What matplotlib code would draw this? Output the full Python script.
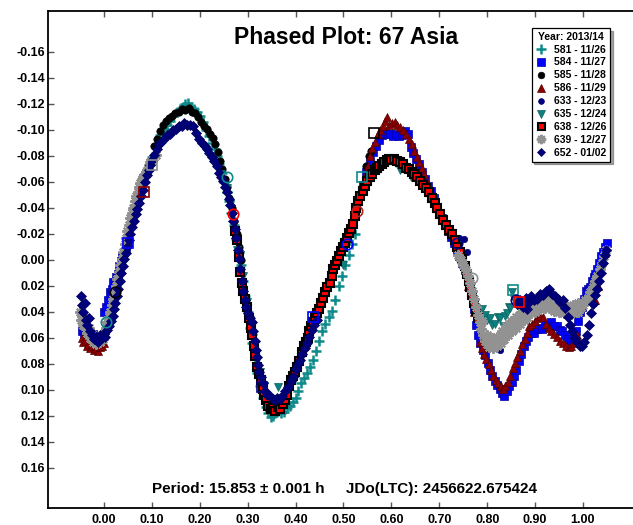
import numpy as np
import matplotlib
matplotlib.use("Agg")
import matplotlib.pyplot as plt

plt.rcParams['font.family'] = ['Liberation Sans', 'DejaVu Sans']
plt.rcParams['font.weight'] = 'bold'

TITLE = "Phased Plot: 67 Asia"
FOOTER = "Period: 15.853 \u00b1 0.001 h     JDo(LTC): 2456622.675424"
LEGEND_TITLE = "Year: 2013/14"
LABELS = ["581 - 11/26", "584 - 11/27", "585 - 11/28", "586 - 11/29", "633 - 12/23",
          "635 - 12/24", "638 - 12/26", "639 - 12/27", "652 - 01/02"]
XTICKS = [0.0, 0.1, 0.2, 0.3, 0.4, 0.5, 0.6, 0.7, 0.8, 0.9, 1.0]
YTICKS = [-0.16, -0.14, -0.12, -0.10, -0.08, -0.06, -0.04, -0.02, 0.0,
          0.02, 0.04, 0.06, 0.08, 0.10, 0.12, 0.14, 0.16]

# (phase, magnitude) per session
s581 = [(0.100,-0.079),(0.108,-0.088),(0.117,-0.096),(0.125,-0.101),(0.132,-0.104),(0.138,-0.107),
        (0.145,-0.111),(0.152,-0.114),(0.158,-0.116),(0.165,-0.118),(0.170,-0.120),(0.176,-0.121),
        (0.182,-0.118),(0.188,-0.116),(0.195,-0.114),(0.201,-0.111),(0.207,-0.106),(0.213,-0.100),
        (0.219,-0.095),(0.225,-0.090),(0.231,-0.085),(0.236,-0.080),(0.241,-0.074),(0.246,-0.067),
        (0.251,-0.060),(0.256,-0.052),(0.261,-0.045),(0.266,-0.036),(0.271,-0.027),(0.276,-0.016),
        (0.281,-0.006),(0.285,0.004),(0.290,0.016),(0.295,0.028),(0.300,0.040),(0.305,0.052),
        (0.310,0.064),(0.315,0.076),(0.320,0.087),(0.326,0.097),(0.332,0.106),(0.338,0.113),
        (0.343,0.118),(0.348,0.121),(0.353,0.120),(0.358,0.117),(0.364,0.116),(0.370,0.118),
        (0.376,0.117),(0.382,0.114),(0.388,0.112),(0.394,0.109),(0.400,0.106),(0.406,0.101),
        (0.412,0.095),(0.418,0.091),(0.424,0.087),(0.430,0.082),(0.436,0.077),(0.442,0.070),
        (0.448,0.062),(0.455,0.055),(0.462,0.049),(0.469,0.044),(0.476,0.039),(0.483,0.031),
        (0.490,0.020),(0.497,0.012),(0.504,0.004),(0.511,-0.004),(0.518,-0.012),(0.525,-0.020)]

s584 = [(-0.046,0.055),(-0.042,0.057),(-0.038,0.053),(-0.033,0.058),(-0.027,0.060),(-0.022,0.057),
        (0.000,0.040),(0.004,0.036),(0.008,0.031),(0.012,0.025),(0.016,0.022),(0.019,0.017),
        (0.023,0.020),(0.026,0.013),(0.029,0.011),(0.032,0.005),(0.035,0.001),(0.038,-0.003),
        (0.042,-0.006),(0.046,-0.010),(0.050,-0.014),
        (0.540,-0.058),(0.548,-0.068),(0.556,-0.076),(0.562,-0.083),(0.568,-0.088),(0.574,-0.092),
        (0.580,-0.096),(0.586,-0.098),(0.592,-0.097),(0.598,-0.097),(0.604,-0.095),(0.610,-0.097),
        (0.616,-0.095),(0.622,-0.096),(0.628,-0.099),(0.634,-0.097),(0.640,-0.087),(0.646,-0.082),
        (0.652,-0.078),(0.658,-0.074),(0.664,-0.068),(0.670,-0.062),(0.676,-0.057),(0.682,-0.053),
        (0.688,-0.048),(0.694,-0.041),(0.700,-0.036),(0.706,-0.032),(0.712,-0.028),(0.718,-0.022),
        (0.724,-0.018),(0.730,-0.013),(0.736,-0.008),(0.742,-0.003),(0.748,0.002),(0.754,0.008),
        (0.760,0.015),(0.766,0.024),(0.772,0.038),(0.777,0.050),(0.781,0.058),
        (0.786,0.064),(0.791,0.069),(0.796,0.073),(0.801,0.079),(0.806,0.085),(0.811,0.089),
        (0.816,0.093),(0.821,0.096),(0.826,0.099),(0.831,0.102),(0.836,0.105),(0.841,0.101),
        (0.846,0.097),(0.851,0.094),(0.856,0.089),(0.861,0.085),(0.866,0.078),(0.871,0.072),
        (0.876,0.066),(0.881,0.062),(0.886,0.059),(0.891,0.056),(0.897,0.056),(0.903,0.053),
        (0.909,0.052),(0.915,0.053),(0.921,0.050),(0.927,0.050),(0.933,0.048),(0.939,0.051),
        (0.945,0.051),(0.951,0.054),(0.957,0.055),(0.963,0.058),(0.969,0.061),(0.975,0.062),
        (0.981,0.060),(0.986,0.055),(0.990,0.047),(0.994,0.040),(0.998,0.036),(1.002,0.030),
        (1.006,0.024),(1.010,0.022),(1.014,0.021),(1.018,0.016),(1.022,0.013),(1.026,0.011),
        (1.030,0.007),(1.034,0.002),(1.038,-0.003),(1.042,-0.006),(1.046,-0.010),(1.050,-0.013)]

s585 = [(0.105,-0.088),(0.111,-0.093),(0.117,-0.099),(0.123,-0.104),(0.130,-0.107),(0.136,-0.109),
        (0.142,-0.111),(0.149,-0.113),(0.156,-0.114),(0.163,-0.116),(0.170,-0.115),(0.177,-0.117),
        (0.184,-0.114),(0.190,-0.113),(0.197,-0.110),(0.203,-0.106),(0.209,-0.103),(0.215,-0.101),
        (0.221,-0.097),(0.227,-0.094),(0.232,-0.089),(0.237,-0.083),(0.242,-0.076),(0.247,-0.070),
        (0.252,-0.062),(0.257,-0.056),(0.262,-0.048),(0.267,-0.040),(0.272,-0.030),(0.277,-0.020),
        (0.282,-0.010),(0.287,0.000),(0.548,-0.072),(0.553,-0.080),(0.558,-0.084)]

s586 = [(-0.046,0.060),(-0.043,0.063),(-0.040,0.062),(-0.036,0.066),(-0.033,0.065),(-0.029,0.068),
        (-0.025,0.066),(-0.021,0.069),(-0.017,0.068),(-0.013,0.070),(-0.009,0.067),(-0.005,0.066),
        (-0.001,0.064),
        (0.540,-0.060),(0.546,-0.066),(0.551,-0.072),(0.555,-0.080),(0.560,-0.086),(0.566,-0.091),
        (0.572,-0.097),(0.577,-0.100),(0.582,-0.103),(0.587,-0.107),(0.591,-0.110),(0.596,-0.104),
        (0.601,-0.105),(0.607,-0.106),(0.612,-0.104),(0.618,-0.102),(0.624,-0.100),(0.630,-0.097),
        (0.636,-0.093),(0.642,-0.089),(0.648,-0.084),(0.653,-0.079),(0.658,-0.075),(0.664,-0.071),
        (0.669,-0.066),(0.674,-0.060),(0.679,-0.055),(0.684,-0.050),
        (0.700,-0.038),(0.720,-0.022),(0.740,-0.006),(0.760,0.020),(0.772,0.040),
        (0.784,0.063),(0.789,0.068),(0.794,0.072),(0.798,0.076),(0.803,0.080),(0.808,0.085),
        (0.813,0.089),(0.818,0.092),(0.823,0.095),(0.828,0.097),(0.833,0.099),(0.838,0.097),
        (0.843,0.094),(0.848,0.089),(0.853,0.083),(0.858,0.079),(0.863,0.075),(0.868,0.070),
        (0.873,0.065),(0.878,0.061),(0.883,0.056),(0.888,0.051),(0.893,0.049),(0.899,0.047),
        (0.905,0.045),(0.911,0.043),(0.917,0.044),(0.922,0.049),(0.928,0.052),(0.934,0.055),
        (0.940,0.057),(0.946,0.059),(0.952,0.062),(0.958,0.064),(0.964,0.066),(0.970,0.067),
        (0.976,0.066),(0.982,0.064),(0.988,0.058),(1.025,0.031),(1.032,0.020)]

s633 = [(0.735,-0.014),(0.742,-0.017),(0.752,-0.016),(0.758,-0.006),(0.822,0.066),(0.827,0.069),
        (0.858,0.029),(0.864,0.033)]

s635 = [(0.245,-0.066),(0.252,-0.058),(0.257,-0.055),(0.263,-0.043),(0.268,-0.033),(0.273,-0.021),
        (0.278,-0.008),(0.284,-0.004),(0.290,0.012),(0.298,0.032),(0.305,0.046),(0.312,0.060),
        (0.318,0.072),(0.325,0.086),(0.333,0.097),(0.345,0.110),(0.355,0.112),(0.363,0.098),
        (0.372,0.108),(0.385,0.100),(0.478,0.010),(0.499,0.004),(0.618,-0.069),(0.640,-0.064),
        (0.676,-0.050),
        (0.790,0.038),(0.795,0.042),(0.800,0.046),(0.806,0.045),(0.811,0.050),(0.816,0.049),
        (0.822,0.044),(0.827,0.045),(0.833,0.051),(0.837,0.043),(0.841,0.041),(0.845,0.036),
        (0.848,0.037),(0.852,0.025),(0.856,0.030)]

s638 = [(0.274,-0.022),(0.278,-0.015),(0.281,-0.002),(0.284,0.009),(0.288,0.018),(0.291,0.024),
        (0.295,0.030),(0.299,0.036),(0.303,0.045),(0.306,0.052),(0.310,0.058),(0.313,0.066),
        (0.316,0.074),(0.319,0.082),(0.323,0.088),(0.327,0.092),(0.331,0.099),(0.335,0.104),
        (0.339,0.108),(0.343,0.112),(0.348,0.115),(0.353,0.114),(0.358,0.116),(0.363,0.113),
        (0.368,0.115),(0.373,0.111),(0.378,0.108),(0.383,0.104),(0.387,0.097),(0.390,0.092),
        (0.394,0.089),(0.398,0.086),(0.403,0.082),(0.408,0.078),(0.413,0.071),(0.417,0.066),
        (0.421,0.063),(0.425,0.060),(0.429,0.055),(0.433,0.051),(0.437,0.048),(0.441,0.044),
        (0.445,0.041),(0.449,0.038),(0.453,0.033),(0.457,0.029),(0.461,0.025),(0.466,0.021),
        (0.471,0.018),(0.475,0.012),(0.479,0.007),(0.483,0.004),(0.487,0.001),(0.491,-0.003),
        (0.495,-0.007),(0.499,-0.010),(0.503,-0.013),(0.507,-0.017),(0.511,-0.021),(0.515,-0.024),
        (0.519,-0.028),(0.523,-0.034),(0.527,-0.040),(0.531,-0.045),(0.535,-0.049),(0.540,-0.053),
        (0.545,-0.057),(0.550,-0.061),(0.555,-0.064),(0.560,-0.066),(0.565,-0.069),(0.570,-0.071),
        (0.575,-0.072),(0.580,-0.074),(0.585,-0.075),(0.590,-0.077),(0.595,-0.078),(0.600,-0.077),
        (0.606,-0.078),(0.612,-0.076),(0.618,-0.075),(0.624,-0.074),(0.630,-0.071),(0.636,-0.070),
        (0.642,-0.068),(0.648,-0.066),(0.654,-0.064),(0.660,-0.061),(0.666,-0.058),(0.672,-0.055),
        (0.678,-0.052),(0.684,-0.048),(0.690,-0.044),(0.696,-0.040),(0.702,-0.035),(0.708,-0.031),
        (0.714,-0.027),(0.720,-0.023),(0.726,-0.020),(0.732,-0.015),(0.738,-0.010),(0.743,-0.006),
        (0.748,-0.001),(0.753,0.005),(0.757,0.011),(0.761,0.016),(0.765,0.021),(0.769,0.027),
        (0.773,0.033),(0.777,0.039),(0.781,0.045)]

s639 = [(-0.050,0.040),(-0.047,0.046),(-0.044,0.050),(-0.041,0.044),(-0.038,0.053),(-0.035,0.056),
        (-0.032,0.052),(-0.029,0.060),(-0.026,0.057),(-0.023,0.063),(-0.020,0.060),(-0.017,0.065),
        (-0.014,0.062),(-0.011,0.060),(-0.008,0.063),(-0.005,0.059),(-0.002,0.061),(0.001,0.056),
        (0.004,0.052),(0.007,0.048),(0.010,0.044),(0.013,0.040),(0.016,0.035),(0.019,0.030),
        (0.022,0.025),(0.025,0.020),(0.028,0.015),(0.031,0.009),(0.034,0.004),(0.037,-0.001),
        (0.040,-0.006),(0.043,-0.012),(0.046,-0.017),(0.049,-0.022),(0.052,-0.027),(0.055,-0.032),
        (0.058,-0.036),(0.061,-0.040),(0.064,-0.045),(0.067,-0.049),(0.070,-0.052),(0.073,-0.056),
        (0.076,-0.059),(0.079,-0.062),(0.082,-0.064),(0.085,-0.066),(0.088,-0.068),(0.091,-0.071),
        (0.094,-0.073),(0.097,-0.075),(0.100,-0.076),(0.104,-0.079),(0.108,-0.081),
        (0.740,-0.004),(0.745,0.000),(0.750,0.004),(0.755,0.008),(0.760,0.012),(0.764,0.018),
        (0.768,0.024),(0.772,0.030),(0.776,0.036),(0.780,0.042),(0.784,0.048),(0.788,0.053),
        (0.792,0.058),(0.796,0.062),(0.800,0.065),(0.804,0.067),(0.808,0.066),(0.812,0.068),
        (0.816,0.065),(0.820,0.066),(0.824,0.063),(0.828,0.064),(0.832,0.060),(0.836,0.061),
        (0.840,0.057),(0.844,0.058),(0.848,0.054),(0.852,0.055),(0.856,0.051),(0.860,0.052),
        (0.864,0.048),(0.868,0.049),(0.872,0.045),(0.876,0.046),(0.880,0.042),(0.884,0.044),
        (0.888,0.040),(0.892,0.041),(0.896,0.038),(0.900,0.040),(0.905,0.036),(0.910,0.038),
        (0.915,0.035),(0.920,0.037),(0.925,0.034),(0.930,0.037),(0.935,0.036),(0.940,0.039),
        (0.945,0.037),(0.950,0.040),(0.955,0.038),(0.960,0.041),(0.965,0.039),(0.970,0.042),
        (0.975,0.040),(0.980,0.041),(0.985,0.038),(0.990,0.040),(0.995,0.036),(1.000,0.035),
        (1.005,0.031),(1.010,0.029),(1.015,0.025),(1.020,0.021),(1.025,0.016),(1.030,0.012),
        (1.035,0.007),(1.040,0.002),(1.044,-0.003),(1.048,-0.008),
        (0.790,0.047),(0.800,0.058),(0.810,0.060),(0.820,0.059),(0.830,0.055),(0.840,0.051),
        (0.850,0.047),(0.860,0.044),(0.870,0.040),(0.880,0.036),(0.890,0.034),(0.900,0.033),
        (0.910,0.032),(0.920,0.031),(0.930,0.031),(0.940,0.033),(0.950,0.034),(0.960,0.035),
        (0.970,0.036),(0.980,0.035),(0.990,0.033)]

s652 = [(-0.048,0.028),(-0.046,0.035),(-0.044,0.040),(-0.040,0.033),(-0.038,0.046),(-0.035,0.050),
        (-0.032,0.045),(-0.029,0.055),(-0.025,0.058),(-0.021,0.061),(-0.017,0.059),(-0.013,0.063),
        (-0.009,0.058),(-0.005,0.060),(-0.001,0.057),(0.003,0.059),(0.007,0.054),(0.011,0.051),
        (0.015,0.047),(0.018,0.043),(0.021,0.038),(0.024,0.033),(0.027,0.028),(0.030,0.022),
        (0.033,0.016),(0.036,0.010),(0.039,0.005),(0.042,-0.001),(0.045,-0.005),(0.048,-0.010),
        (0.052,-0.015),(0.055,-0.020),(0.058,-0.025),(0.062,-0.030),(0.066,-0.035),(0.069,-0.039),
        (0.073,-0.044),(0.077,-0.049),(0.081,-0.054),(0.085,-0.060),(0.089,-0.065),(0.093,-0.069),
        (0.097,-0.073),(0.101,-0.077),(0.105,-0.081),(0.110,-0.085),(0.115,-0.089),(0.120,-0.091),
        (0.126,-0.093),(0.132,-0.096),(0.138,-0.097),(0.144,-0.100),(0.150,-0.101),(0.156,-0.103),
        (0.162,-0.103),(0.168,-0.105),(0.174,-0.104),(0.180,-0.104),(0.186,-0.103),(0.192,-0.098),
        (0.198,-0.093),(0.204,-0.090),(0.210,-0.088),(0.215,-0.085),(0.220,-0.082),(0.225,-0.079),
        (0.230,-0.076),(0.236,-0.072),(0.241,-0.067),(0.245,-0.064),(0.249,-0.061),(0.253,-0.056),
        (0.257,-0.052),(0.261,-0.047),(0.264,-0.042),(0.267,-0.036),(0.270,-0.030),(0.273,-0.024),
        (0.276,-0.017),(0.279,-0.008),(0.281,-0.001),(0.284,0.007),(0.288,0.016),(0.291,0.024),
        (0.294,0.031),(0.297,0.036),(0.300,0.041),(0.304,0.045),(0.308,0.048),(0.312,0.055),
        (0.315,0.062),(0.317,0.069),(0.319,0.075),(0.321,0.081),(0.324,0.086),(0.328,0.090),
        (0.332,0.095),(0.336,0.101),(0.341,0.104),(0.347,0.105),(0.352,0.107),(0.357,0.108),
        (0.362,0.106),(0.367,0.107),(0.372,0.105),(0.378,0.101),(0.384,0.098),(0.390,0.093),
        (0.395,0.090),(0.400,0.084),(0.405,0.080),(0.409,0.077),(0.414,0.072),(0.419,0.068),
        (0.424,0.064),(0.429,0.059),(0.434,0.054),(0.439,0.050),(0.444,0.046),
        (0.862,0.034),(0.868,0.031),(0.874,0.036),(0.880,0.029),(0.883,0.038),(0.886,0.033),
        (0.892,0.028),(0.898,0.031),(0.904,0.030),(0.910,0.026),(0.917,0.027),(0.923,0.024),
        (0.929,0.022),(0.935,0.026),(0.942,0.028),(0.948,0.030),(0.953,0.032),(0.958,0.031),
        (0.963,0.037),(0.968,0.044),(0.973,0.050),(0.978,0.055),(0.983,0.060),(0.988,0.063),
        (0.993,0.066),(0.998,0.066),(1.003,0.063),(1.008,0.058),(1.012,0.050),(1.016,0.041),
        (1.020,0.034),(1.025,0.027),(1.029,0.022),(1.033,0.016),(1.037,0.010),(1.041,0.002),
        (1.045,-0.004),(1.049,-0.008)]

# hollow session marks: (phase, magnitude, colour, marker)
session_marks = [(0.004,0.048,'#0E8A8A','o'),(0.050,-0.013,'#0000FF','s'),(0.083,-0.052,'#8B0000','s'),
                 (0.100,-0.073,'#909090','s'),(0.023,0.025,'#000000','o'),(0.257,-0.064,'#0E8A8A','o'),
                 (0.269,-0.035,'#FF0000','o'),(0.330,0.098,'#00007F','s'),(0.436,0.044,'#0000FF','s'),
                 (0.507,-0.012,'#0000FF','o'),(0.528,-0.038,'#B22222','o'),(0.539,-0.064,'#0E8A8A','s'),
                 (0.564,-0.098,'#000000','s'),(0.737,-0.013,'#00007F','o'),(0.768,0.014,'#909090','o'),
                 (0.854,0.023,'#0E8A8A','s'),(0.860,0.031,'#00007F','o'),(0.867,0.032,'#FF0000','s')]

styles = [
    dict(marker='+', color='#0E8A8A', ms=7.5, mew=1.8),
    dict(marker='s', mfc='#0000FF', mec='#0000A0', ms=5.8, mew=0.5),
    dict(marker='o', mfc='#000000', mec='#000000', ms=5.3, mew=0.5),
    dict(marker='^', mfc='#8B0000', mec='#5A0000', ms=6.0, mew=0.5),
    dict(marker='o', mfc='#00007F', mec='#00007F', ms=4.6, mew=0.5),
    dict(marker='v', mfc='#0E8080', mec='#0A6060', ms=6.0, mew=0.5),
    dict(marker='s', mfc='#FF0000', mec='#000000', ms=5.6, mew=1.5),
    dict(marker=(8, 2, 0), color='#929292', ms=7.5, mew=1.5),
    dict(marker='D', mfc='#00007F', mec='#00005A', ms=5.0, mew=0.5),
]
series = [s581, s584, s585, s586, s633, s635, s638, s639, s652]

fig = plt.figure(figsize=(6.33, 5.25), dpi=100)
ax = fig.add_axes([48/633, 17/525, 585/633, 497/525])

handles = []
for data, st, lab in zip(series, styles, LABELS):
    arr = np.array(data)
    h, = ax.plot(arr[:, 0], arr[:, 1], linestyle='none', label=lab, **st)
    handles.append(h)

for p, m, c, mk in session_marks:
    ax.plot([p], [m], linestyle='none', marker=mk, mfc='none', mec=c, ms=7.5, mew=1.2)

ax.set_xlim(-0.1169, 1.1044)
ax.set_ylim(0.1908, -0.1915)
ax.set_xticks(XTICKS)
ax.set_xticklabels([f"{v:.2f}" for v in XTICKS])
ax.set_yticks(YTICKS)
ax.set_yticklabels([f"{v:.2f}" for v in YTICKS])
ax.spines['right'].set_visible(False)
for s in ['left', 'bottom', 'top']:
    ax.spines[s].set_linewidth(1.3)
    ax.spines[s].set_color('#000000')
ax.tick_params(axis='both', direction='in', length=4, width=1.0, color='#555555',
               labelsize=9, labelcolor='#000000', top=True, right=False, labeltop=False)
ax.tick_params(axis='x', pad=4)
ax.tick_params(axis='y', pad=2)
for lbl in ax.get_xticklabels() + ax.get_yticklabels():
    lbl.set_fontweight('bold')

fig.text(346/633, 1 - 38/525, TITLE, ha='center', va='center', fontsize=16.5, fontweight='bold')
fig.text(344/633, 1 - 489/525, FOOTER, ha='center', va='center', fontsize=11, fontweight='bold')

leg = ax.legend(handles=handles, title=LEGEND_TITLE, loc='upper right',
                bbox_to_anchor=(610/633, 1 - 28/525), bbox_transform=fig.transFigure,
                fontsize=7.5, title_fontproperties={'weight': 'bold', 'size': 7.5},
                frameon=True, fancybox=False, shadow=True, edgecolor='#000000', framealpha=1,
                numpoints=1, handlelength=1.1, handletextpad=0.7, labelspacing=0.28,
                borderpad=0.35, borderaxespad=0, markerscale=0.9)
leg.get_frame().set_linewidth(0.9)
for t in leg.get_texts():
    t.set_fontweight('bold')

fig.savefig('out.png', dpi=100, facecolor='white')
